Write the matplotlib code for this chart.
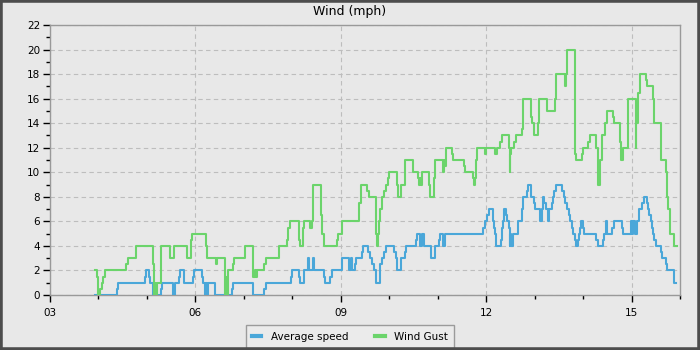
import matplotlib
matplotlib.use("Agg")
import matplotlib.pyplot as plt
from matplotlib.ticker import MultipleLocator, FuncFormatter
from matplotlib.patches import Rectangle
from matplotlib.lines import Line2D

# Wind log: change points (local time) and the value held until the next one, mph
speed_times = [
    "03:56", "04:23", "04:24", "04:57", "04:59", "05:03", "05:04", "05:07", "05:18", "05:19",
    "05:32", "05:35", "05:40", "05:41", "05:46", "05:57", "05:58", "06:08", "06:09", "06:12",
    "06:13", "06:14", "06:16", "06:24", "06:45", "06:46", "07:11", "07:25", "07:27", "07:58",
    "07:59", "08:08", "08:09", "08:14", "08:15", "08:20", "08:21", "08:26", "08:27", "08:39",
    "08:40", "08:47", "08:49", "09:01", "09:02", "09:10", "09:13", "09:14", "09:18", "09:19",
    "09:26", "09:27", "09:34", "09:36", "09:39", "09:41", "09:43", "09:48", "09:49", "09:51",
    "09:54", "09:56", "10:06", "10:08", "10:10", "10:14", "10:20", "10:21", "10:33", "10:34",
    "10:38", "10:40", "10:41", "10:43", "10:52", "10:57", "11:02", "11:03", "11:07", "11:09",
    "11:56", "11:58", "12:01", "12:03", "12:08", "12:09", "12:10", "12:11", "12:12", "12:18",
    "12:19", "12:20", "12:21", "12:22", "12:24", "12:26", "12:28", "12:29", "12:30", "12:31",
    "12:33", "12:39", "12:44", "12:46", "12:51", "12:52", "12:55", "12:56", "12:59", "13:00",
    "13:07", "13:09", "13:10", "13:12", "13:14", "13:16", "13:18", "13:21", "13:23", "13:24",
    "13:27", "13:34", "13:36", "13:38", "13:40", "13:42", "13:44", "13:46", "13:47", "13:50",
    "13:51", "13:54", "13:55", "13:56", "13:57", "14:00", "14:01", "14:16", "14:18", "14:25",
    "14:26", "14:28", "14:29", "14:36", "14:38", "14:48", "14:49", "14:59", "15:00", "15:02",
    "15:04", "15:07", "15:09", "15:13", "15:15", "15:19", "15:20", "15:22", "15:24", "15:25",
    "15:26", "15:28", "15:30", "15:37", "15:38", "15:43", "15:44", "15:52", "15:53", "15:55",
]
speed_values = [
    0, 0.5, 1, 1.5, 2, 1.5, 1, 0, 0.5, 1,
    0, 1, 1.5, 2, 1, 1.5, 2, 1.5, 1, 0,
    1, 0, 1, 0, 0.5, 1, 0, 0.5, 1, 1.5,
    2, 1.5, 1, 1.5, 2, 3, 2, 3, 2, 1.5,
    1, 1.5, 2, 2.5, 3, 2, 3, 2, 2.5, 3,
    3.5, 4, 3.5, 3, 2.5, 2, 1, 2, 2.5, 3,
    3.5, 4, 3.5, 3, 2, 3, 3.5, 4, 4.5, 5,
    4, 4.5, 5, 4, 3, 4, 4.5, 5, 4, 5,
    5.5, 6, 6.5, 7, 6.5, 6, 5.5, 5, 4, 4.5,
    5, 5.5, 6, 7, 6.5, 6, 5.5, 4, 5, 4,
    5, 6, 7, 8, 8.5, 9, 8.5, 8, 7.5, 7,
    6, 7, 8, 7.5, 7, 6, 7, 7.5, 8, 8.5,
    9, 8.5, 8, 7.5, 7, 6.5, 6, 5.5, 5, 4.5,
    4, 4.5, 5, 5.5, 6, 5.5, 5, 4.5, 4, 4.5,
    5, 6, 5, 5.5, 6, 5.5, 5, 6, 5, 6,
    5, 6, 7, 7.5, 8, 7.5, 7, 6.5, 6, 5.5,
    5, 4.5, 4, 3.5, 3, 2.5, 2, 1.5, 1, 1,
]

gust_times = [
    "03:56", "03:58", "03:59", "04:02", "04:04", "04:06", "04:08", "04:34", "04:36", "04:47",
    "05:07", "05:09", "05:10", "05:11", "05:13", "05:17", "05:28", "05:34", "05:49", "05:54",
    "05:55", "05:56", "06:13", "06:14", "06:25", "06:27", "06:37", "06:38", "06:39", "06:40",
    "06:46", "06:48", "07:02", "07:11", "07:14", "07:15", "07:16", "07:25", "07:27", "07:43",
    "07:54", "07:55", "07:57", "08:08", "08:10", "08:13", "08:15", "08:22", "08:24", "08:25",
    "08:35", "08:37", "08:39", "08:55", "08:57", "09:02", "09:23", "09:25", "09:33", "09:35",
    "09:44", "09:45", "09:46", "09:47", "09:48", "09:51", "09:54", "09:56", "09:59", "10:00",
    "10:10", "10:11", "10:14", "10:19", "10:29", "10:36", "10:37", "10:38", "10:39", "10:40",
    "10:49", "10:51", "10:56", "10:57", "11:07", "11:08", "11:09", "11:10", "11:18", "11:19",
    "11:33", "11:34", "11:44", "11:45", "11:46", "11:47", "11:48", "11:49", "11:58", "12:00",
    "12:11", "12:13", "12:17", "12:19", "12:28", "12:29", "12:30", "12:31", "12:35", "12:37",
    "12:44", "12:45", "12:55", "12:57", "12:59", "13:04", "13:05", "13:15", "13:25", "13:26",
    "13:38", "13:39", "13:40", "13:50", "13:51", "13:59", "14:00", "14:06", "14:08", "14:16",
    "14:18", "14:19", "14:21", "14:23", "14:27", "14:29", "14:37", "14:38", "14:46", "14:47",
    "14:49", "14:55", "14:56", "15:05", "15:06", "15:08", "15:10", "15:18", "15:19", "15:26",
    "15:28", "15:36", "15:37", "15:43", "15:44", "15:45", "15:47", "15:48", "15:52", "15:53",
    "15:56",
]
gust_values = [
    2, 1.5, 0, 0.5, 1, 1.5, 2, 2.5, 3, 4,
    2.5, 0, 1, 0, 1, 4, 3, 4, 3, 4,
    4.5, 5, 4, 3, 2.5, 3, 0, 1.5, 0, 2,
    2.5, 3, 4, 1.5, 2, 1.5, 2, 2.5, 3, 4,
    4.5, 5.5, 6, 4.5, 4, 5.5, 6, 5.5, 6, 9,
    6.5, 5, 4, 4.5, 5, 6, 7.5, 9, 8.5, 8,
    5, 4, 5, 6, 7, 8, 8.5, 9, 9.5, 10,
    9, 8, 9, 11, 10, 9.5, 9, 9.5, 9, 10,
    9, 8, 9.5, 11, 10, 11, 10.5, 12, 11.5, 11,
    10.5, 10, 9.5, 9, 9.5, 10, 11, 12, 11.5, 12,
    11.5, 12, 12.5, 13, 12, 10, 11.5, 12, 12.5, 13,
    13.5, 16, 14.5, 14, 13, 14, 16, 15, 16, 18,
    17, 18, 20, 11.5, 11, 11.5, 12, 12.5, 13, 12,
    10, 9, 11, 13, 14, 15, 14.5, 14, 12.5, 11,
    12, 14, 16, 12, 14, 16.5, 18, 17.5, 17, 16,
    14, 11.5, 11, 10, 8, 7, 6, 5, 4.5, 4,
    4,
]

series_labels = ["Average speed", "Wind Gust"]
series_colors = ["#4aa7d9", "#6bd46b"]
hour_ticks = [3, 6, 9, 12, 15]


def to_hours(stamps):
    return [int(s[:2]) + int(s[3:]) / 60 for s in stamps]


bg = "#e8e8e8"
fig = plt.figure(figsize=(7, 3.5), dpi=100, facecolor=bg)
ax = fig.add_axes([50 / 700, 55 / 350, 630 / 700, 270 / 350])
ax.set_facecolor(bg)

ax.plot(to_hours(speed_times), speed_values, drawstyle="steps-post",
        color=series_colors[0], linewidth=1.5, zorder=3)
ax.plot(to_hours(gust_times), gust_values, drawstyle="steps-post",
        color=series_colors[1], linewidth=1.5, zorder=3)

ax.set_xlim(3, 16)
ax.set_ylim(0, 22)
ax.set_xticks(hour_ticks)
ax.xaxis.set_major_formatter(FuncFormatter(lambda v, p: f"{int(round(v)):02d}"))
ax.xaxis.set_minor_locator(MultipleLocator(1))
ax.yaxis.set_major_locator(MultipleLocator(2))
ax.yaxis.set_minor_locator(MultipleLocator(1))

ax.grid(which="major", color="#bdbdbd", linestyle=(0, (4, 3)), linewidth=0.8, zorder=1)
ax.tick_params(which="major", direction="out", length=5, width=1, color="black",
               labelsize=7.5, pad=2)
ax.tick_params(which="minor", direction="out", length=3, width=1, color="black")
ax.tick_params(axis="x", which="major", pad=4)
for spine in ax.spines.values():
    spine.set_color("#999999")
    spine.set_linewidth(1)

fig.text(0.5, 1 - 12 / 350, "Wind (mph)", ha="center", va="center", fontsize=9)

handles = [Line2D([], [], color=c, linewidth=3) for c in series_colors]
leg = fig.legend(handles, series_labels, loc="lower center",
                 bbox_to_anchor=(350 / 700, -3 / 350), ncol=2, fontsize=7.5,
                 handlelength=0.9, handletextpad=0.9, columnspacing=2.6,
                 frameon=True, fancybox=False, edgecolor="#888888",
                 facecolor="#ececec", borderpad=0.6)
leg.get_frame().set_linewidth(1)

fig.patches.append(Rectangle((0, 0), 1, 1, transform=fig.transFigure, fill=False,
                             edgecolor="#4d4d4d", linewidth=4, zorder=10))

fig.savefig("out.png", dpi=100, facecolor=bg)
